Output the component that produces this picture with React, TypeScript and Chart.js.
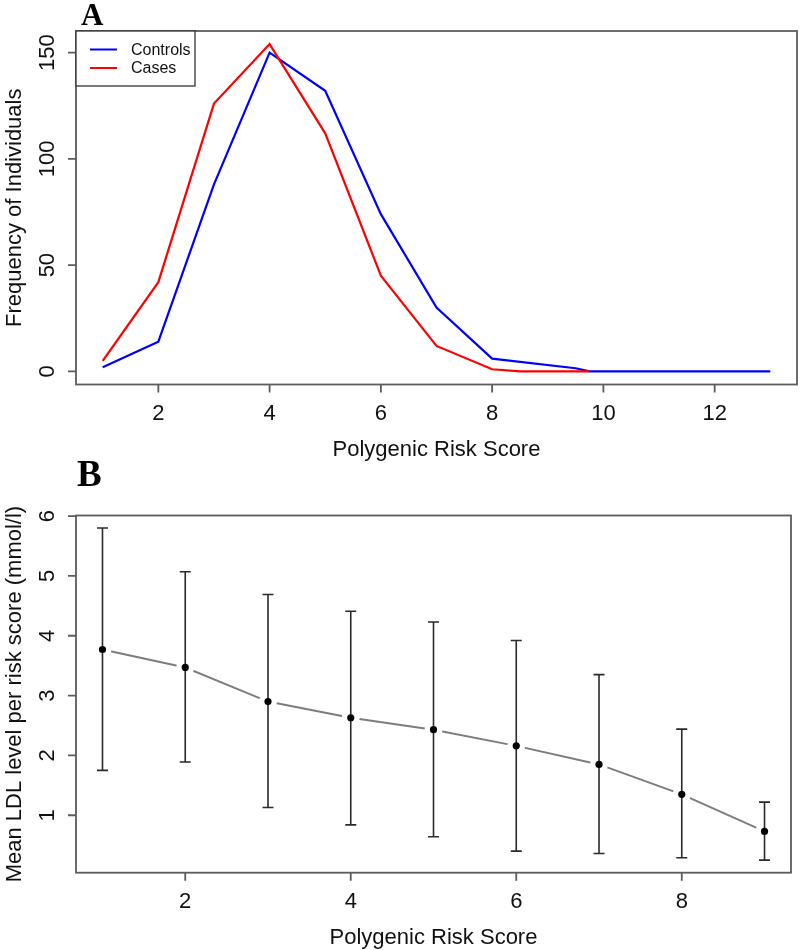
import React, { useEffect, useRef } from "react";
import { Chart, registerables } from "chart.js";
Chart.register(...registerables);

// ---------- Panel A data ----------
const controlScores = [1, 2, 3, 4, 5, 6, 7, 8, 9.5, 9.75, 10, 11, 12, 13];
const controlFreq = [2, 14, 88, 150, 132, 74, 30, 6, 1.5, 0, 0, 0, 0, 0];
const caseScores = [1, 2, 3, 4, 5, 6, 7, 8, 8.5, 9.75];
const caseFreq = [5, 42, 126, 154, 112, 45, 12, 1, 0, 0];
const xTicksA = [2, 4, 6, 8, 10, 12];
const yTicksA = [0, 50, 100, 150];

// ---------- Panel B data ----------
const scoresB = [1, 2, 3, 4, 5, 6, 7, 8, 9];
const meanLDL = [3.77, 3.47, 2.9, 2.63, 2.43, 2.16, 1.85, 1.35, 0.73];
const upperLDL = [5.8, 5.07, 4.69, 4.41, 4.23, 3.92, 3.35, 2.44, 1.22];
const lowerLDL = [1.75, 1.89, 1.13, 0.84, 0.64, 0.4, 0.36, 0.29, 0.25];
const xTicksB = [2, 4, 6, 8];
const yTicksB = [1, 2, 3, 4, 5, 6];

const SANS = '"Liberation Sans", Arial, sans-serif';
const SERIF = '"Liberation Serif", "Times New Roman", serif';

type FrameCfg = {
  xTicks: number[];
  yTicks: number[];
  xTitle: string;
  yTitle: string;
  panel: string;
  panelFont: string;
  panelX: number;
  panelY: number;
};

function framePlugin(cfg: FrameCfg) {
  return {
    id: "frame" + cfg.panel,
    afterDraw(chart: any) {
      const { ctx, chartArea: a, scales } = chart;
      const xs = scales.x;
      const ys = scales.y;
      ctx.save();
      ctx.strokeStyle = "#5c5c5c";
      ctx.lineWidth = 1.8;
      ctx.strokeRect(a.left, a.top, a.right - a.left, a.bottom - a.top);
      ctx.beginPath();
      for (const t of cfg.xTicks) {
        const px = xs.getPixelForValue(t);
        ctx.moveTo(px, a.bottom);
        ctx.lineTo(px, a.bottom + 8);
      }
      for (const t of cfg.yTicks) {
        const py = ys.getPixelForValue(t);
        ctx.moveTo(a.left, py);
        ctx.lineTo(a.left - 8, py);
      }
      ctx.stroke();

      ctx.fillStyle = "#111";
      ctx.font = "22px " + SANS;
      ctx.textAlign = "center";
      ctx.textBaseline = "alphabetic";
      for (const t of cfg.xTicks) {
        ctx.fillText(String(t), xs.getPixelForValue(t), a.bottom + 35);
      }
      for (const t of cfg.yTicks) {
        ctx.save();
        ctx.translate(a.left - 22, ys.getPixelForValue(t));
        ctx.rotate(-Math.PI / 2);
        ctx.fillText(String(t), 0, 0);
        ctx.restore();
      }
      ctx.fillText(cfg.xTitle, (a.left + a.right) / 2, a.bottom + 71);
      ctx.save();
      ctx.translate(21, (a.top + a.bottom) / 2);
      ctx.rotate(-Math.PI / 2);
      ctx.fillText(cfg.yTitle, 0, 0);
      ctx.restore();

      ctx.font = cfg.panelFont;
      ctx.textAlign = "left";
      ctx.fillStyle = "#000";
      ctx.fillText(cfg.panel, cfg.panelX, cfg.panelY);
      ctx.restore();
    },
  };
}

const legendPlugin = {
  id: "legendA",
  afterDraw(chart: any) {
    const { ctx, chartArea: a } = chart;
    ctx.save();
    ctx.fillStyle = "#fff";
    ctx.fillRect(a.left, a.top, 119, 55);
    ctx.strokeStyle = "#333";
    ctx.lineWidth = 1.3;
    ctx.strokeRect(a.left, a.top, 119, 55);
    const items = [
      { label: "Controls", color: "#0000ff", y: a.top + 18.5 },
      { label: "Cases", color: "#ff0000", y: a.top + 37 },
    ];
    ctx.font = "16px " + SANS;
    ctx.textBaseline = "middle";
    ctx.textAlign = "left";
    for (const it of items) {
      ctx.strokeStyle = it.color;
      ctx.lineWidth = 2;
      ctx.beginPath();
      ctx.moveTo(a.left + 14, it.y);
      ctx.lineTo(a.left + 41, it.y);
      ctx.stroke();
      ctx.fillStyle = "#111";
      ctx.fillText(it.label, a.left + 55, it.y + 1);
    }
    ctx.restore();
  },
};

const errorBarPlugin = {
  id: "errorBars",
  afterDatasetDraw(chart: any, args: any) {
    if (args.index !== 1) return;
    const { ctx, scales } = chart;
    const xs = scales.x;
    const ys = scales.y;
    ctx.save();
    ctx.strokeStyle = "#2a2a2a";
    ctx.lineWidth = 1.6;
    ctx.beginPath();
    scoresB.forEach((s, i) => {
      const px = xs.getPixelForValue(s);
      const yt = ys.getPixelForValue(upperLDL[i]);
      const yb = ys.getPixelForValue(lowerLDL[i]);
      ctx.moveTo(px, yt);
      ctx.lineTo(px, yb);
      ctx.moveTo(px - 5.5, yt);
      ctx.lineTo(px + 5.5, yt);
      ctx.moveTo(px - 5.5, yb);
      ctx.lineTo(px + 5.5, yb);
    });
    ctx.stroke();
    ctx.restore();
  },
};

export default function App() {
  const refA = useRef<HTMLCanvasElement>(null);
  const refB = useRef<HTMLCanvasElement>(null);

  useEffect(() => {
    const chartA = new Chart(refA.current as HTMLCanvasElement, {
      type: "line",
      data: {
        datasets: [
          {
            label: "Cases",
            data: caseScores.map((x, i) => ({ x, y: caseFreq[i] })),
            borderColor: "#ff0000",
            borderWidth: 2.2,
            pointRadius: 0,
            tension: 0,
            fill: false,
          },
          {
            label: "Controls",
            data: controlScores.map((x, i) => ({ x, y: controlFreq[i] })),
            borderColor: "#0000ff",
            borderWidth: 2.2,
            pointRadius: 0,
            tension: 0,
            fill: false,
          },
        ],
      },
      options: {
        animation: false,
        responsive: false,
        maintainAspectRatio: false,
        layout: { padding: { left: 76, top: 31, right: 3, bottom: 85.5 } },
        plugins: { legend: { display: false }, tooltip: { enabled: false } },
        scales: {
          x: { type: "linear", min: 0.52, max: 13.48, display: false },
          y: { type: "linear", min: -6.16, max: 160.16, display: false },
        },
      },
      plugins: [
        framePlugin({
          xTicks: xTicksA,
          yTicks: yTicksA,
          xTitle: "Polygenic Risk Score",
          yTitle: "Frequency of Individuals",
          panel: "A",
          panelFont: "bold 31px " + SERIF,
          panelX: 81,
          panelY: 24.5,
        }),
        legendPlugin,
      ],
    } as any);

    const pts = scoresB.map((x, i) => ({ x, y: meanLDL[i] }));
    const chartB = new Chart(refB.current as HTMLCanvasElement, {
      type: "line",
      data: {
        datasets: [
          {
            label: "Mean",
            data: pts,
            showLine: false,
            pointRadius: 3.6,
            pointBackgroundColor: "#000",
            pointBorderColor: "#000",
            pointBorderWidth: 0,
          },
          {
            label: "Trend",
            data: pts,
            borderColor: "#7d7d7d",
            borderWidth: 2,
            tension: 0,
            fill: false,
            pointRadius: 9,
            pointBackgroundColor: "#fff",
            pointBorderColor: "#fff",
            pointBorderWidth: 0,
          },
        ],
      },
      options: {
        animation: false,
        responsive: false,
        maintainAspectRatio: false,
        layout: { padding: { left: 76, top: 60.5, right: 3, bottom: 77.3 } },
        plugins: { legend: { display: false }, tooltip: { enabled: false } },
        scales: {
          x: { type: "linear", min: 0.68, max: 9.32, display: false },
          y: { type: "linear", min: 0.04, max: 6.01, display: false },
        },
      },
      plugins: [
        errorBarPlugin,
        framePlugin({
          xTicks: xTicksB,
          yTicks: yTicksB,
          xTitle: "Polygenic Risk Score",
          yTitle: "Mean LDL level per risk score (mmol/l)",
          panel: "B",
          panelFont: "bold 37px " + SERIF,
          panelX: 77,
          panelY: 30.7,
        }),
      ],
    } as any);

    return () => {
      chartA.destroy();
      chartB.destroy();
    };
  }, []);

  return (
    <div style={{ position: "absolute", left: 0, top: 0, width: 800, height: 950, background: "#fff" }}>
      <canvas
        ref={refA}
        width={800}
        height={470}
        style={{ position: "absolute", left: 0, top: 0, width: 800, height: 470 }}
      />
      <canvas
        ref={refB}
        width={800}
        height={495}
        style={{ position: "absolute", left: 0, top: 455, width: 800, height: 495 }}
      />
    </div>
  );
}
